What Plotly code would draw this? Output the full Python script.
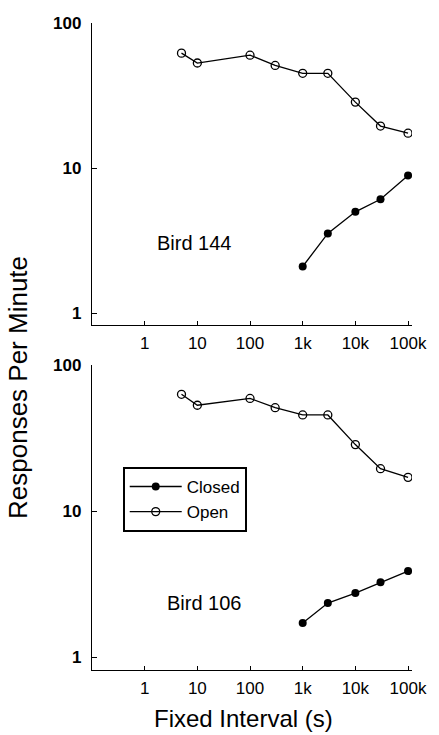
import plotly.graph_objects as go

# ---- data ----
open_x = [5, 10, 100, 300, 1000, 3000, 10000, 30000, 100000]
closed_x = [1000, 3000, 10000, 30000, 100000]
open_144 = [62, 53, 60, 51, 45, 45, 28.5, 19.5, 17.4]
closed_144 = [2.1, 3.55, 5.0, 6.1, 8.9]
open_106 = [63, 53, 59, 51, 45.5, 45.5, 28.5, 19.5, 17.0]
closed_106 = [1.71, 2.34, 2.74, 3.25, 3.88]

x_tickvals = [1, 10, 100, 1000, 10000, 100000]
x_ticktext = ["1", "10", "100", "1k", "10k", "100k"]
y_tickvals = [1, 10, 100]
y_ticktext = ["1", "10", "100"]

FONT = "Liberation Sans, Arial, sans-serif"

fig = go.Figure()

def add_pair(xa, ya, closed_y, open_y, show):
    fig.add_trace(go.Scatter(
        x=closed_x, y=closed_y, mode="lines+markers", name="Closed",
        line=dict(color="black", width=1.3),
        marker=dict(symbol="circle", size=8, color="black"),
        xaxis=xa, yaxis=ya, showlegend=show))
    fig.add_trace(go.Scatter(
        x=open_x, y=open_y, mode="lines+markers", name="Open",
        line=dict(color="black", width=1.3),
        marker=dict(symbol="circle-open", size=8, color="black", line=dict(width=1.3)),
        xaxis=xa, yaxis=ya, showlegend=show))

add_pair("x", "y", closed_144, open_144, False)
add_pair("x2", "y2", closed_106, open_106, True)

xcommon = dict(type="log", range=[-1, 5.075], tickvals=x_tickvals, ticktext=x_ticktext,
               ticks="inside", ticklen=4, tickwidth=1, tickcolor="black",
               showline=True, linecolor="black", linewidth=1.3, showgrid=False, zeroline=False,
               tickfont=dict(family=FONT, size=17, color="black"), ticklabelstandoff=2)
ycommon = dict(type="log", tickvals=y_tickvals, ticktext=y_ticktext,
               ticks="inside", ticklen=5, tickwidth=1, tickcolor="black",
               showline=True, linecolor="black", linewidth=1.3, showgrid=False, zeroline=False,
               tickfont=dict(family=FONT, size=17, color="black", weight="bold"), ticklabelstandoff=6)

fig.update_layout(
    width=439, height=735,
    margin=dict(l=92, r=24, t=23, b=65),
    paper_bgcolor="white", plot_bgcolor="white",
    xaxis=dict(**xcommon, anchor="y", domain=[0, 1]),
    yaxis=dict(**ycommon, range=[-0.081, 2.0], anchor="x", domain=[0.5332, 1]),
    xaxis2=dict(**xcommon, anchor="y2", domain=[0, 1]),
    yaxis2=dict(**ycommon, range=[-0.089, 2.0], anchor="x2", domain=[0, 0.4714]),
    legend=dict(x=0.096, y=0.3138, xanchor="left", yanchor="top",
                bgcolor="white", bordercolor="black", borderwidth=2,
                font=dict(family=FONT, size=17, color="black"),
                itemwidth=52, tracegroupgap=0),
    showlegend=True,
    annotations=[
        dict(text="Bird 144", x=0.319, y=0.66, xref="paper", yref="paper", showarrow=False,
             xanchor="center", yanchor="middle",
             font=dict(family=FONT, size=20, color="black")),
        dict(text="Bird 106", x=0.35, y=0.1036, xref="paper", yref="paper", showarrow=False,
             xanchor="center", yanchor="middle",
             font=dict(family=FONT, size=20, color="black")),
        dict(text="Responses Per Minute", x=-0.229, y=0.437, xref="paper", yref="paper",
             showarrow=False, textangle=-90, xanchor="center", yanchor="middle",
             font=dict(family=FONT, size=26, color="black")),
        dict(text="Fixed Interval (s)", x=0.474, y=-0.0742, xref="paper", yref="paper",
             showarrow=False, xanchor="center", yanchor="middle",
             font=dict(family=FONT, size=24, color="black")),
    ],
)

fig.write_html("out.html")
